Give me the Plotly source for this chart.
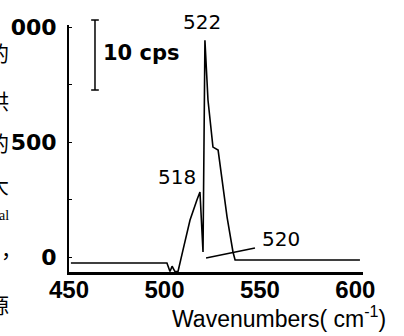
import plotly.graph_objects as go

# Raman spectrum
wavenumber = [451, 501.3, 502.9, 504.0, 505.5, 507.1, 509.7, 513.4, 517.0, 518.6,
              520.2, 521.2, 522.8, 525.4, 528.1, 532.8, 535.9, 537.0, 602.4]
intensity = [-26, -26, -63, -40, -63, -63, 30, 161, 248, 283,
             22, 943, 683, 478, 465, 174, 22, -13, -13]

x_ticks = [450, 500, 550, 600]
x_tick_labels = ["450", "500", "550", "600"]
y_ticks = [0, 500, 1000]
y_tick_labels = ["0", "500", "000"]

peak_labels = ["522", "518", "520"]
scale_label = "10 cps"
x_title = "Wavenumbers( cm<sup>-1</sup>)"
side_text = ["的", "供", "的", "大", "al", "，", "源"]

fig = go.Figure()
fig.add_trace(go.Scatter(x=wavenumber, y=intensity, mode="lines",
                         line=dict(color="black", width=1.6),
                         showlegend=False, hoverinfo="skip"))

fig.update_layout(
    width=404, height=336,
    margin=dict(l=69, r=41, t=25, b=64, autoexpand=False),
    paper_bgcolor="white", plot_bgcolor="white",
    xaxis=dict(range=[450, 604], showgrid=False, zeroline=False, automargin=False,
               showline=True, linecolor="black", linewidth=2.5,
               tickvals=x_ticks, ticktext=x_tick_labels, ticks="",
               ticklabelstandoff=-6,
               tickfont=dict(family="Liberation Sans", size=24, color="black", weight="bold")),
    yaxis=dict(range=[-65, 1009], showgrid=False, zeroline=False, automargin=False,
               showline=True, linecolor="black", linewidth=2,
               tickvals=y_ticks, ticktext=y_tick_labels, ticks="inside", ticklen=3,
               tickcolor="black", ticklabelstandoff=6,
               minor=dict(ticks="inside", ticklen=3, dtick=250, tickcolor="black"),
               tickfont=dict(family="DejaVu Sans", size=22, color="black", weight="bold")),
)


def note(x, y, text, font, xref="paper", yref="paper", xanchor="center"):
    fig.add_annotation(x=x, y=y, xref=xref, yref=yref, text=text, showarrow=False,
                       xanchor=xanchor, yanchor="middle", font=font)


peak_font = dict(family="DejaVu Sans", size=20, color="black")
# peak labels
note(519.7, 1.012, peak_labels[0], peak_font, xref="x", yref="paper")
note(506.6, 348, peak_labels[1], peak_font, xref="x", yref="y")
note(561, 78, peak_labels[2], peak_font, xref="x", yref="y")
fig.add_shape(type="line", x0=521.8, y0=-4, x1=547.4, y1=39, xref="x", yref="y",
              line=dict(color="black", width=1.5))

# scale bar
fig.add_shape(type="line", x0=0.0884, x1=0.0884, y0=0.7368, y1=1.0202,
              xref="paper", yref="paper", line=dict(color="black", width=1.5))
for yy in (0.7368, 1.0202):
    fig.add_shape(type="line", x0=0.0754, x1=0.1014, y0=yy, y1=yy,
                  xref="paper", yref="paper", line=dict(color="black", width=1.5))
note(0.108, 0.887, scale_label,
     dict(family="DejaVu Sans", size=21, color="black", weight="bold"), xanchor="left")

# axis title
note(0.714, -0.184, x_title, dict(family="Liberation Sans", size=23, color="black"))

# cropped page text at left edge
side_y = [0.891, 0.696, 0.526, 0.356, 0.227, 0.097, -0.130]
cjk = dict(family="Noto Sans CJK SC", size=21, color="black")
for t, yy in zip(side_text, side_y):
    if t == "al":
        note(-0.197, yy, t, dict(family="Liberation Serif", size=14, color="black"),
             xanchor="right")
    elif t == "，":
        note(-0.238, yy, t, cjk, xanchor="left")
    else:
        note(-0.197, yy, t, cjk, xanchor="right")

fig.write_html("out.html", config={"displayModeBar": False},
               post_script="document.body.style.margin='0';")
